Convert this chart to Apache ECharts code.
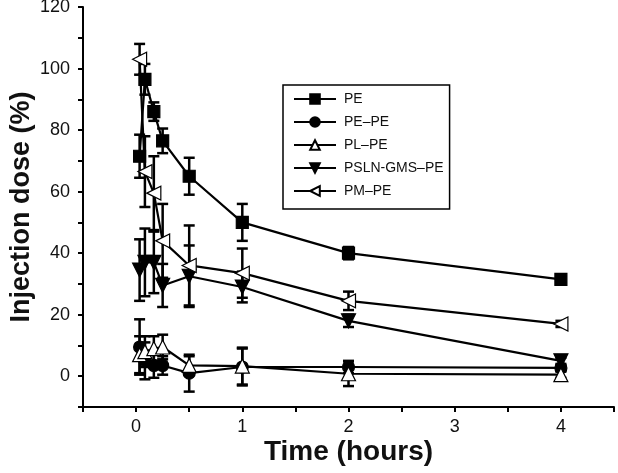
<!DOCTYPE html>
<html>
<head>
<meta charset="utf-8">
<script src="https://cdn.jsdelivr.net/npm/echarts@6/dist/echarts.min.js"></script>
<style>html,body{margin:0;padding:0;background:#fff}#c{width:618px;height:473px}</style>
</head>
<body>
<div id="c"></div>
<script>
const times = [0.033, 0.083, 0.167, 0.25, 0.5, 1, 2, 4];
const seriesNames = ['PE', 'PE\u2013PE', 'PL\u2013PE', 'PSLN-GMS\u2013PE', 'PM\u2013PE'];
const pe = [71.5, 96.5, 86, 76.5, 65, 50, 40, 31.5];
const peErr = [7, 5, 3, 4, 6, 6, 2, 1];
const pepe = [9.5, 5, 3.5, 3.5, 1, 3, 3, 2.7];
const pepeErr = [9, 6, 4, 3, 6, 6, 2, 1];
const plpe = [7, 8, 9, 9.5, 3.5, 3.3, 0.8, 0.5];
const plpeErr = [6, 5, 4, 4, 3, 6, 4, 1];
const psln = [34.5, 37, 37, 29.5, 32.5, 29, 18, 5];
const pslnErr = [10, 11, 10, 7, 10, 5, 2, 1];
const pmpe = [103, 66.5, 59.5, 44, 36, 33.5, 24.5, 17];
const pmpeErr = [5, 11.5, 12, 12, 13, 8, 3, 1];
const xTicks = [0, 1, 2, 3, 4];
const yTicks = [0, 20, 40, 60, 80, 100, 120];

const values = [pe, pepe, plpe, psln, pmpe];
const errs = [peErr, pepeErr, plpeErr, pslnErr, pmpeErr];
const symbols = [
  {symbol: 'rect', size: 12, rotate: 0, fill: '#000'},
  {symbol: 'circle', size: 12, rotate: 0, fill: '#000'},
  {symbol: 'triangle', size: 14, rotate: 0, fill: '#fff'},
  {symbol: 'triangle', size: 14, rotate: 180, fill: '#000'},
  {symbol: 'triangle', size: 14, rotate: 90, fill: '#fff'}
];
const font = 'Liberation Sans, Arial, sans-serif';

const series = [];
values.forEach((vals, i) => {
  const err = errs[i];
  series.push({
    type: 'custom',
    name: seriesNames[i] + ' err',
    data: times.map((t, j) => [t, vals[j] - err[j], vals[j] + err[j]]),
    encode: {x: 0, y: [1, 2]},
    silent: true,
    z: 1,
    renderItem: function (params, api) {
      const x = api.value(0), lo = api.value(1), hi = api.value(2);
      const p1 = api.coord([x, hi]), p2 = api.coord([x, lo]);
      const w = 5.5;
      const st = {stroke: '#000', lineWidth: 2.5};
      return {type: 'group', children: [
        {type: 'line', shape: {x1: p1[0], y1: p1[1], x2: p2[0], y2: p2[1]}, style: st},
        {type: 'line', shape: {x1: p1[0] - w, y1: p1[1], x2: p1[0] + w, y2: p1[1]}, style: st},
        {type: 'line', shape: {x1: p2[0] - w, y1: p2[1], x2: p2[0] + w, y2: p2[1]}, style: st}
      ]};
    }
  });
});
values.forEach((vals, i) => {
  const s = symbols[i];
  series.push({
    type: 'line',
    name: seriesNames[i],
    data: times.map((t, j) => [t, vals[j]]),
    symbol: s.symbol,
    symbolSize: s.size,
    symbolRotate: s.rotate,
    showAllSymbol: true,
    z: 3,
    lineStyle: {color: '#000', width: 2.2},
    itemStyle: {color: s.fill, borderColor: '#000', borderWidth: 1.2, opacity: 1},
    emphasis: {disabled: true}
  });
});

const chart = echarts.init(document.getElementById('c'), null, {renderer: 'canvas'});
chart.setOption({
  animation: false,
  backgroundColor: '#fff',
  grid: {left: 83, right: 4, top: 7, bottom: 66, containLabel: false, outerBoundsMode: 'none'},
  legend: {
    data: seriesNames,
    orient: 'vertical',
    left: 283,
    top: 85,
    itemWidth: 42,
    itemHeight: 12,
    itemGap: 9,
    padding: [7, 6, 11, 10],
    borderColor: '#000',
    borderWidth: 1.5,
    textStyle: {fontFamily: font, fontSize: 14, color: '#111', padding: [0, 0, 0, 3]},
    selectedMode: false
  },
  xAxis: {
    type: 'value',
    min: -0.5,
    max: 4.5,
    interval: 0.5,
    name: 'Time (hours)',
    nameLocation: 'middle',
    nameGap: 31,
    nameMoveOverlap: false,
    nameTextStyle: {fontFamily: font, fontSize: 28, fontWeight: 'bold', color: '#111', verticalAlign: 'top'},
    axisLine: {onZero: false, lineStyle: {color: '#000', width: 2}},
    axisTick: {show: true, length: 5, lineStyle: {color: '#000', width: 2}},
    axisLabel: {
      fontFamily: font, fontSize: 18, color: '#111', margin: 11,
      formatter: v => xTicks.includes(Math.round(v * 1000) / 1000) ? String(v) : ''
    },
    splitLine: {show: false}
  },
  yAxis: {
    type: 'value',
    min: -10,
    max: 120,
    interval: 10,
    name: 'Injection dose (%)',
    nameLocation: 'middle',
    nameGap: 48,
    nameMoveOverlap: false,
    nameRotate: 90,
    nameTextStyle: {fontFamily: font, fontSize: 27, fontWeight: 'bold', color: '#111'},
    axisLine: {onZero: false, lineStyle: {color: '#000', width: 2}},
    axisTick: {show: true, length: 5, lineStyle: {color: '#000', width: 2}},
    axisLabel: {
      fontFamily: font, fontSize: 18, color: '#111', margin: 13,
      formatter: v => yTicks.includes(Math.round(v)) ? String(v) : ''
    },
    splitLine: {show: false}
  },
  series: series
});
</script>
</body>
</html>
